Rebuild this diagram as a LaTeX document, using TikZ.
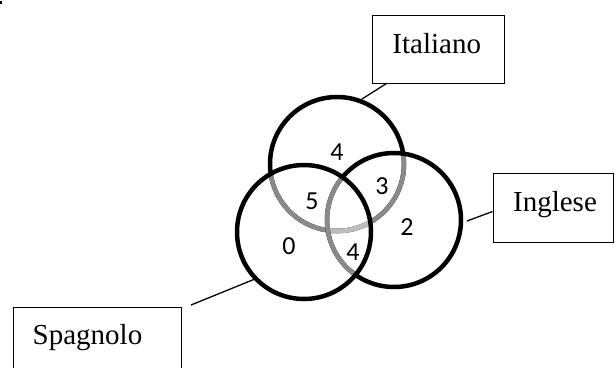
\documentclass[tikz,border=0pt]{standalone}
\usepackage{fontspec}
\setmainfont{Liberation Serif}
\newfontfamily\numfont{Carlito}
\definecolor{midgray}{HTML}{8A8A8A}
\definecolor{lightgray2}{HTML}{BDBDBD}
\begin{document}
\begin{tikzpicture}[x=1pt,y=-1pt,
  ring/.style={line width=4.5pt},
  labelbox/.style={draw, line width=0.9pt, inner sep=0pt},
  boxtext/.style={font=\fontsize{29}{34}\selectfont, anchor=base, inner sep=0pt},
  num/.style={font=\numfont\fontsize{26}{30}\selectfont, inner sep=0pt},
  conn/.style={line width=1.3pt}]
\useasboundingbox (0,0) rectangle (616,367);
% tiny mark
\fill (0,1) rectangle (2,3.5);
% circle centres
\coordinate (cI) at (337,164);
\coordinate (cS) at (304,232);
\coordinate (cE) at (394,220);
\def\R{67pt}
% Italiano circle
\draw[ring] (cI) circle[radius=\R];
\begin{scope}
  \clip (cS) circle[radius=\R];
  \draw[ring, midgray] (cI) circle[radius=\R];
\end{scope}
\begin{scope}
  \clip (cE) circle[radius=\R];
  \draw[ring, midgray] (cI) circle[radius=\R];
\end{scope}
\begin{scope}
  \clip (cE) circle[radius=\R];
  \clip (cS) circle[radius=\R];
  \draw[ring, lightgray2] (cI) circle[radius=\R];
\end{scope}
% Inglese circle
\draw[ring] (cE) circle[radius=\R];
\begin{scope}
  \clip (cS) circle[radius=\R];
  \draw[ring, midgray] (cE) circle[radius=\R];
\end{scope}
% Spagnolo circle
\draw[ring] (cS) circle[radius=\R];
% numbers
\node[num] (n1) at (337,152) {4};
\node[num] (n2) at (312,201) {5};
\node[num] (n3) at (382,186) {3};
\node[num] (n4) at (289,246) {0};
\node[num] (n5) at (353,252) {4};
\node[num] (n6) at (407,227) {2};
% boxes
\node[labelbox, minimum width=132pt, minimum height=68pt] (bI) at (438,49) {};
\node[labelbox, minimum width=120pt, minimum height=69pt] (bE) at (553,207.5) {};
\node[labelbox, minimum width=168pt, minimum height=80pt] (bS) at (97,347) {};
\node[boxtext] (tI) at (436.7,53.3) {Italiano};
\node[boxtext] (tE) at (555,211.7) {Inglese};
\node[boxtext] (tS) at (87.5,344) {Spagnolo};
% connectors
\coordinate (aI) at (362,99);
\coordinate (aE) at (467,221);
\coordinate (aS1) at (191,305);
\coordinate (aS2) at (255,279);
\draw[conn] ([xshift=15pt]bI.south west) -- (aI);
\draw[conn] (aE) -- ([yshift=-4pt]bE.west);
\draw[conn] (aS1) -- (aS2);
\end{tikzpicture}
\end{document}
